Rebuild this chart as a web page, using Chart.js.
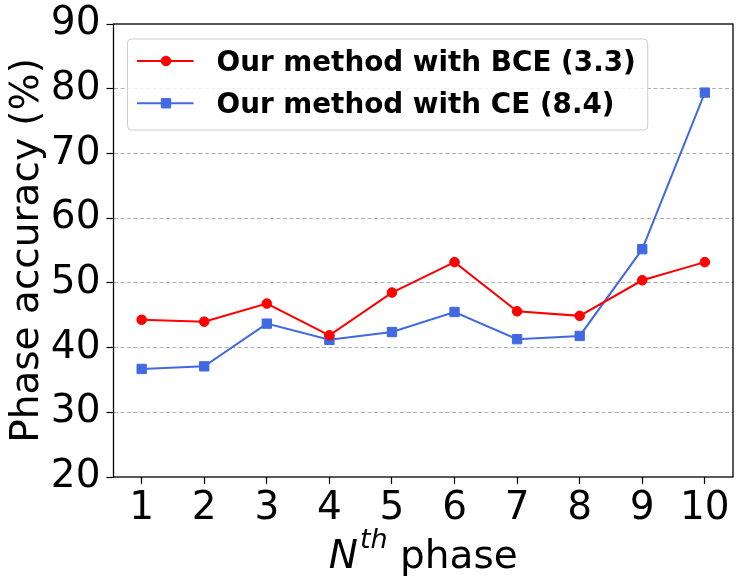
<!DOCTYPE html>
<html>
<head>
<meta charset="utf-8">
<script src="https://cdn.jsdelivr.net/npm/chart.js@4.4.0/dist/chart.umd.min.js"></script>
<style>body{margin:0;background:#fff}</style>
</head>
<body>
<canvas id="phaseChart" width="746" height="588"></canvas>
<script>
const phases = [1, 2, 3, 4, 5, 6, 7, 8, 9, 10];
const bceAcc = [44.3, 44.0, 46.8, 41.9, 48.5, 53.2, 45.6, 44.9, 50.4, 53.2];
const ceAcc = [36.7, 37.1, 43.7, 41.2, 42.4, 45.5, 41.3, 41.8, 55.2, 79.4];
const yTicks = [20, 30, 40, 50, 60, 70, 80, 90];
const seriesNames = ['Our method with BCE (3.3)', 'Our method with CE (8.4)'];

const FONT = '"DejaVu Sans", sans-serif';
const BIG = 39;

// black box round the plot, like matplotlib spines
const framePlugin = {
  id: 'frame',
  afterDatasetsDraw(chart) {
    const { ctx, chartArea: a } = chart;
    ctx.save();
    ctx.strokeStyle = '#000';
    ctx.lineWidth = 1.3;
    ctx.strokeRect(a.left, a.top, a.right - a.left, a.bottom - a.top);
    ctx.restore();
  }
};

// legend with line + marker handles
const boxLegend = {
  id: 'boxLegend',
  afterDatasetsDraw(chart) {
    const { ctx, chartArea: a } = chart;
    const x0 = a.left + 14, y0 = a.top + 15;
    ctx.save();
    ctx.font = 'bold 27.8px ' + FONT;
    const sets = chart.data.datasets;
    const tw = Math.max(...sets.map(d => ctx.measureText(d.label).width));
    const w = 89 + tw + 12, h = 91;
    ctx.beginPath();
    ctx.roundRect(x0, y0, w, h, 4);
    ctx.fillStyle = 'rgba(255,255,255,0.8)';
    ctx.fill();
    ctx.strokeStyle = '#cccccc';
    ctx.lineWidth = 1;
    ctx.stroke();
    sets.forEach((d, i) => {
      const cy = y0 + 22 + i * 42.3;
      ctx.strokeStyle = d.borderColor;
      ctx.fillStyle = d.borderColor;
      ctx.lineWidth = 2;
      ctx.beginPath();
      ctx.moveTo(x0 + 9.5, cy);
      ctx.lineTo(x0 + 66, cy);
      ctx.stroke();
      ctx.lineWidth = 1;
      Chart.helpers.drawPoint(ctx, { pointStyle: d.pointStyle, radius: d.pointRadius, borderWidth: 1 }, x0 + 38.5, cy);
      ctx.fillStyle = '#000';
      ctx.textBaseline = 'alphabetic';
      ctx.fillText(d.label, x0 + 89, cy + 10);
    });
    ctx.restore();
  }
};

// x title with italic N and superscript th
const xTitle = {
  id: 'xTitle',
  afterDraw(chart) {
    const { ctx, chartArea: a } = chart;
    const base = a.bottom + 91;
    const fN = 'italic ' + BIG + 'px ' + FONT, fS = 'italic 27px ' + FONT, fP = BIG + 'px ' + FONT;
    ctx.save();
    ctx.fillStyle = '#000';
    ctx.textBaseline = 'alphabetic';
    ctx.textAlign = 'left';
    ctx.font = fN; const wN = ctx.measureText('N').width + 2;
    ctx.font = fS; const wS = ctx.measureText('th').width;
    ctx.font = fP; const wP = ctx.measureText(' phase').width;
    let x = (a.left + a.right) / 2 - (wN + wS + wP) / 2;
    ctx.font = fN; ctx.fillText('N', x, base); x += wN;
    ctx.font = fS; ctx.fillText('th', x, base - 20.5); x += wS;
    ctx.font = fP; ctx.fillText(' phase', x, base);
    ctx.restore();
  }
};

new Chart(document.getElementById('phaseChart'), {
  type: 'line',
  data: {
    datasets: [
      {
        label: seriesNames[0],
        data: phases.map((p, i) => ({ x: p, y: bceAcc[i] })),
        borderColor: '#ff0000',
        backgroundColor: '#ff0000',
        borderWidth: 2,
        pointStyle: 'circle',
        pointRadius: 4.8,
        pointBorderWidth: 1,
        tension: 0
      },
      {
        label: seriesNames[1],
        data: phases.map((p, i) => ({ x: p, y: ceAcc[i] })),
        borderColor: '#4169e1',
        backgroundColor: '#4169e1',
        borderWidth: 2,
        pointStyle: 'rect',
        pointRadius: 6.6,
        pointBorderWidth: 1,
        tension: 0
      }
    ]
  },
  options: {
    responsive: false,
    animation: false,
    layout: { padding: { top: 24, right: 13, left: 0, bottom: 0 } },
    plugins: { legend: { display: false }, tooltip: { enabled: false } },
    scales: {
      x: {
        type: 'linear',
        min: 0.55,
        max: 10.45,
        afterBuildTicks: s => { s.ticks = phases.map(v => ({ value: v })); },
        afterFit: s => { s.height = 111; s.paddingLeft = 0; s.paddingRight = 0; },
        grid: { drawOnChartArea: false, tickLength: 7, tickColor: '#000', tickWidth: 1.2 },
        border: { display: false },
        ticks: { color: '#000', font: { family: FONT, size: BIG }, padding: 1, maxRotation: 0, autoSkip: false }
      },
      y: {
        min: 20,
        max: 90,
        afterBuildTicks: s => { s.ticks = yTicks.map(v => ({ value: v })); },
        afterFit: s => { s.width = 113.5; s.paddingTop = 0; s.paddingBottom = 0; },
        grid: {
          color: ctx => (ctx.tick && (ctx.tick.value === 20 || ctx.tick.value === 90)) ? 'rgba(0,0,0,0)' : '#b0b0b0',
          lineWidth: 1,
          tickLength: 7,
          tickColor: '#000',
          tickWidth: 1.2
        },
        border: { display: false, dash: [4, 2.5] },
        ticks: { color: '#000', font: { family: FONT, size: BIG }, padding: 6 },
        title: {
          display: true,
          text: 'Phase accuracy (%)',
          color: '#000',
          font: { family: FONT, size: BIG },
          padding: { top: 4, bottom: 0 }
        }
      }
    }
  },
  plugins: [framePlugin, boxLegend, xTitle]
});
</script>
</body>
</html>
